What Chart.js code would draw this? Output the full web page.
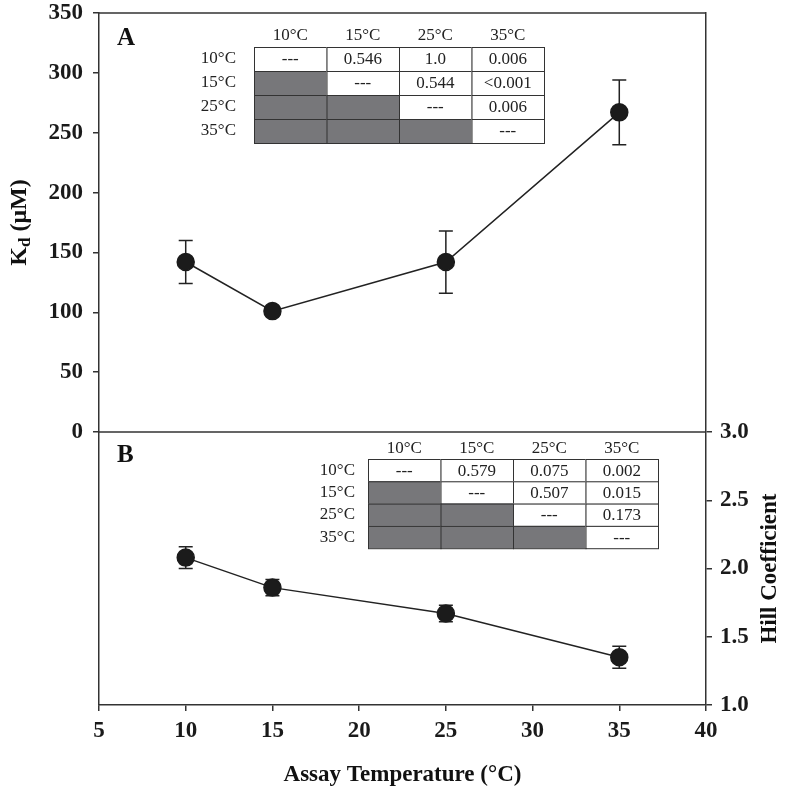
<!DOCTYPE html>
<html>
<head>
<meta charset="utf-8">
<script src="https://cdn.jsdelivr.net/npm/chart.js@4.4.1/dist/chart.umd.min.js"></script>
<style>
  html, body { margin: 0; padding: 0; background: #fff; }
</style>
</head>
<body>
<canvas id="chart" width="786" height="795"></canvas>
<script>
/*
    DATOS
*/
const temps = [10, 15, 25, 35];
const kd = [142, 101, 142, 267];
const kdErr = [18, 4, 26, 27];
const hill = [2.08, 1.86, 1.67, 1.35];
const hillErr = [0.08, 0.06, 0.06, 0.08];
const xTicks = [5, 10, 15, 20, 25, 30, 35, 40];
const kdTicks = [0, 50, 100, 150, 200, 250, 300, 350];
const hillTicks = [1.0, 1.5, 2.0, 2.5, 3.0];
const tableHead = ['10°C', '15°C', '25°C', '35°C'];
const pValuesA = [
  ['---', '0.546', '1.0', '0.006'],
  [null, '---', '0.544', '<0.001'],
  [null, null, '---', '0.006'],
  [null, null, null, '---']
];
const pValuesB = [
  ['---', '0.579', '0.075', '0.002'],
  [null, '---', '0.507', '0.015'],
  [null, null, '---', '0.173'],
  [null, null, null, '---']
];

const SERIF = '"Liberation Serif", "Times New Roman", serif';
const INK = '#222';
const GREY = '#77777a';

/*
    UTILIDADES
*/
const toPoints = (ys) => temps.map((t, i) => ({ x: t, y: ys[i] }));

const drawTable = (ctx, o) => {
  const { x0, y0, colW, rowH, headY, labelX, cells } = o;
  ctx.save();
  ctx.font = `17px ${SERIF}`;
  ctx.fillStyle = INK;
  ctx.textBaseline = 'middle';
  ctx.textAlign = 'center';
  tableHead.forEach((h, c) => ctx.fillText(h, x0 + colW * (c + 0.5), headY));
  ctx.textAlign = 'right';
  tableHead.forEach((h, r) => ctx.fillText(h, labelX, y0 + rowH * (r + 0.5)));
  cells.forEach((row, r) => {
    row.forEach((txt, c) => {
      const x = x0 + colW * c, y = y0 + rowH * r;
      ctx.fillStyle = txt === null ? GREY : '#fff';
      ctx.fillRect(x, y, colW, rowH);
      ctx.strokeStyle = '#333';
      ctx.lineWidth = 1;
      ctx.strokeRect(x + 0.5, y + 0.5, colW, rowH);
      if (txt !== null) {
        ctx.fillStyle = INK;
        ctx.textAlign = 'center';
        ctx.fillText(txt, x + colW / 2, y + rowH / 2 + 1);
      }
    });
  });
  ctx.restore();
};

const errorBars = {
  id: 'errorBars',
  beforeDatasetsDraw(chart) {
    const { ctx, scales } = chart;
    const sets = [
      { vals: kd, err: kdErr, y: scales.yA },
      { vals: hill, err: hillErr, y: scales.yB }
    ];
    ctx.save();
    ctx.strokeStyle = INK;
    ctx.lineWidth = 1.5;
    sets.forEach(({ vals, err, y }) => {
      temps.forEach((t, i) => {
        const px = scales.x.getPixelForValue(t);
        const top = y.getPixelForValue(vals[i] + err[i]);
        const bot = y.getPixelForValue(vals[i] - err[i]);
        ctx.beginPath();
        ctx.moveTo(px, top); ctx.lineTo(px, bot);
        ctx.moveTo(px - 7, top); ctx.lineTo(px + 7, top);
        ctx.moveTo(px - 7, bot); ctx.lineTo(px + 7, bot);
        ctx.stroke();
      });
    });
    ctx.restore();
  }
};

const decor = {
  id: 'decor',
  afterDraw(chart) {
    const { ctx, chartArea: a, scales } = chart;
    const mid = scales.yA.getPixelForValue(0);
    ctx.save();
    ctx.strokeStyle = '#333';
    ctx.lineWidth = 1.5;
    ctx.beginPath();
    ctx.moveTo(a.left, a.top); ctx.lineTo(a.right, a.top);
    ctx.moveTo(a.left, mid); ctx.lineTo(a.right, mid);
    ctx.stroke();

    drawTable(ctx, { x0: 254, y0: 47, colW: 72.5, rowH: 24, headY: 36, labelX: 236, cells: pValuesA });
    drawTable(ctx, { x0: 368, y0: 459, colW: 72.5, rowH: 22.3, headY: 449, labelX: 355, cells: pValuesB });

    ctx.fillStyle = '#111';
    ctx.font = `bold 25px ${SERIF}`;
    ctx.textBaseline = 'middle';
    ctx.textAlign = 'left';
    ctx.fillText('A', a.left + 18, a.top + 26);
    ctx.fillText('B', a.left + 18, mid + 24);

    // x title
    ctx.textAlign = 'center';
    ctx.font = `bold 23px ${SERIF}`;
    ctx.fillText('Assay Temperature (°C)', (a.left + a.right) / 2, 775);

    // Hill title
    ctx.save();
    ctx.translate(770, (mid + a.bottom) / 2);
    ctx.rotate(-Math.PI / 2);
    ctx.fillText('Hill Coefficient', 0, 0);
    ctx.restore();

    // Kd title with subscript
    ctx.save();
    ctx.translate(20, (a.top + mid) / 2);
    ctx.rotate(-Math.PI / 2);
    const big = `bold 24px ${SERIF}`, small = `bold 17px ${SERIF}`;
    ctx.font = big; const wK = ctx.measureText('K').width;
    ctx.font = small; const wd = ctx.measureText('d').width;
    ctx.font = big; const wR = ctx.measureText(' (μM)').width;
    let x = -(wK + wd + wR) / 2;
    ctx.textAlign = 'left';
    ctx.fillText('K', x, 0); x += wK;
    ctx.font = small; ctx.fillText('d', x, 6); x += wd;
    ctx.font = big; ctx.fillText(' (μM)', x, 0);
    ctx.restore();

    ctx.restore();
  }
};

const tickFont = { family: SERIF, size: 23, weight: 'bold' };
const gridOpts = { drawOnChartArea: false, tickLength: 6, color: '#333', lineWidth: 1.5 };
const borderOpts = { color: '#333', width: 1.5 };

// sin relleno automático arriba/abajo por las etiquetas
const noPad = (s) => { s.paddingTop = 0; s.paddingBottom = 0; };

const lineSet = (data, axis) => ({
  data,
  yAxisID: axis,
  borderColor: INK,
  borderWidth: 1.5,
  pointRadius: 8.5,
  pointBackgroundColor: '#1b1b1b',
  pointBorderColor: '#1b1b1b',
  tension: 0
});

/*
    CHART
*/
new Chart(document.getElementById('chart').getContext('2d'), {
  type: 'line',
  data: {
    datasets: [lineSet(toPoints(kd), 'yA'), lineSet(toPoints(hill), 'yB')]
  },
  plugins: [errorBars, decor],
  options: {
    responsive: false,
    animation: false,
    devicePixelRatio: 1,
    layout: { padding: { top: 13, left: 0, right: 0, bottom: 0 } },
    plugins: { legend: { display: false }, tooltip: { enabled: false } },
    scales: {
      x: {
        type: 'linear',
        position: 'bottom',
        min: 5,
        max: 40,
        afterBuildTicks: (s) => { s.ticks = xTicks.map((v) => ({ value: v })); },
        afterFit: (s) => { s.height = 90; s.paddingLeft = 0; s.paddingRight = 0; },
        ticks: { font: tickFont, color: '#1a1a1a', padding: 6, maxRotation: 0 },
        grid: gridOpts,
        border: borderOpts
      },
      yA: {
        type: 'linear',
        position: 'left',
        min: -228,
        max: 350,
        afterBuildTicks: (s) => { s.ticks = kdTicks.map((v) => ({ value: v })); },
        afterFit: (s) => { s.width = 99; noPad(s); },
        ticks: { font: tickFont, color: '#1a1a1a', padding: 10 },
        grid: gridOpts,
        border: borderOpts
      },
      yB: {
        type: 'linear',
        position: 'right',
        min: 1.0,
        max: 6.07,
        afterBuildTicks: (s) => { s.ticks = hillTicks.map((v) => ({ value: v })); },
        afterFit: (s) => { s.width = 80; noPad(s); },
        ticks: { font: tickFont, color: '#1a1a1a', padding: 8, callback: (v) => v.toFixed(1) },
        grid: gridOpts,
        border: borderOpts
      }
    }
  }
});
</script>
</body>
</html>
